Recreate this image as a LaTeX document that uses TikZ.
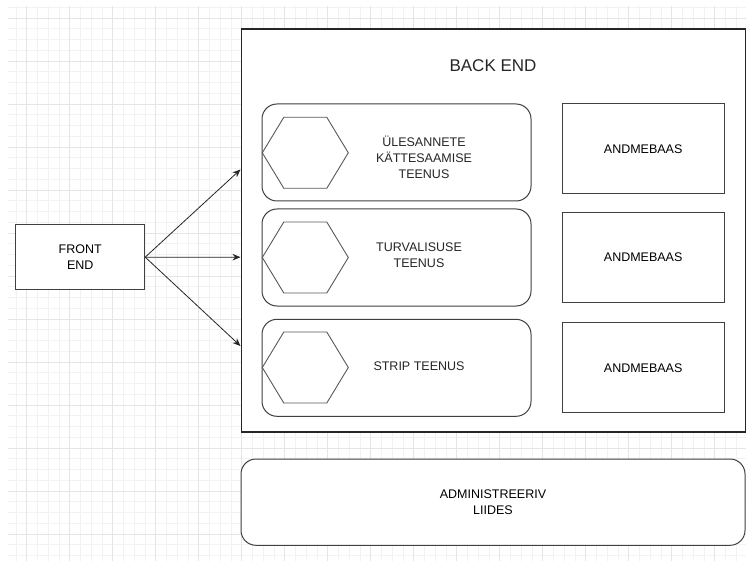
\documentclass[tikz,border=0pt]{standalone}
\usepackage{fontspec}
\setmainfont{Liberation Sans}
\usetikzlibrary{arrows.meta}

\begin{document}
\begin{tikzpicture}[x=1pt,y=-1pt,
  minorgrid/.style={draw=black!5, line width=0.6pt},
  majorgrid/.style={draw=black!10, line width=0.7pt},
  box/.style={draw=black!75, fill=white, line width=1pt, inner sep=0pt, align=center,
    font=\fontsize{12.5}{16}\selectfont},
  roundbox/.style={box, rounded corners=15pt},
  label/.style={inner sep=0pt, align=center, text=black!85, font=\fontsize{12.5}{16}\selectfont},
  hexline/.style={draw=black!65, line width=0.9pt},
  link/.style={draw=black!85, line width=0.8pt, -{Stealth[length=8pt,width=6.5pt]}},
  hexa/.pic={\path[hexline] (-43,0) -- (-21.5,-35.5) -- (21.5,-35.5) -- (43,0) -- (21.5,35.5) -- (-21.5,35.5) -- cycle;}
]
\useasboundingbox (0,0) rectangle (746,561);
\fill[white] (0,0) rectangle (746,561);

% background grid
\foreach \i in {0,...,67} \draw[minorgrid] ({15.95+10.75*\i},6) -- ({15.95+10.75*\i},561);
\foreach \j in {0,...,51} \draw[minorgrid] (8,{7.25+10.75*\j}) -- (746,{7.25+10.75*\j});
\foreach \i in {0,...,16} \draw[majorgrid] ({26.7+43*\i},6) -- ({26.7+43*\i},561);
\foreach \j in {0,...,12} \draw[majorgrid] (8,{18+43*\j}) -- (746,{18+43*\j});

% back end container
\node[box, draw=black!85, line width=1.2pt, minimum width=504pt, minimum height=403pt] (backend) at (493.15,230.5) {};
\node[label, font=\fontsize{17}{20}\selectfont] (betitle) at (493,65.5) {BACK END};

% services
\node[roundbox, minimum width=269pt, minimum height=97pt] (s1) at (396.5,152.5) {};
\node[roundbox, minimum width=269pt, minimum height=97pt] (s2) at (396.5,257.5) {};
\node[roundbox, minimum width=269pt, minimum height=97pt] (s3) at (396.5,367.8) {};

\pic (h1) at (305.3,152.8) {hexa};
\pic (h2) at (305.3,257.5) {hexa};
\pic (h3) at (305.3,367.5) {hexa};

\node[label] (l1) at (424,157.5) {ÜLESANNETE\\KÄTTESAAMISE\\TEENUS};
\node[label] (l2) at (419,255.5) {TURVALISUSE\\TEENUS};
\node[label] (l3) at (419,365.7) {STRIP TEENUS};

% databases
\node[box, minimum width=161.7pt, minimum height=89.7pt] (db1) at (643.15,148.85) {ANDMEBAAS};
\node[box, minimum width=161.7pt, minimum height=89.3pt] (db2) at (643.15,257.35) {ANDMEBAAS};
\node[box, minimum width=161.7pt, minimum height=90pt] (db3) at (643.15,367.7) {ANDMEBAAS};

% front end and admin interface
\node[box, minimum width=129pt, minimum height=64.3pt] (fe) at (80.2,257.15) {FRONT\\END};
\node[roundbox, minimum width=504pt, minimum height=86.3pt] (admin) at (493,502.15) {ADMINISTREERIV\\LIIDES};

% connectors
\coordinate (t1) at (240.5,169.5);
\coordinate (t2) at (240.5,257.2);
\coordinate (t3) at (240.5,346);
\draw[link] (fe.east) -- (t1);
\draw[link] (fe.east) -- (t2);
\draw[link] (fe.east) -- (t3);
\end{tikzpicture}
\end{document}
